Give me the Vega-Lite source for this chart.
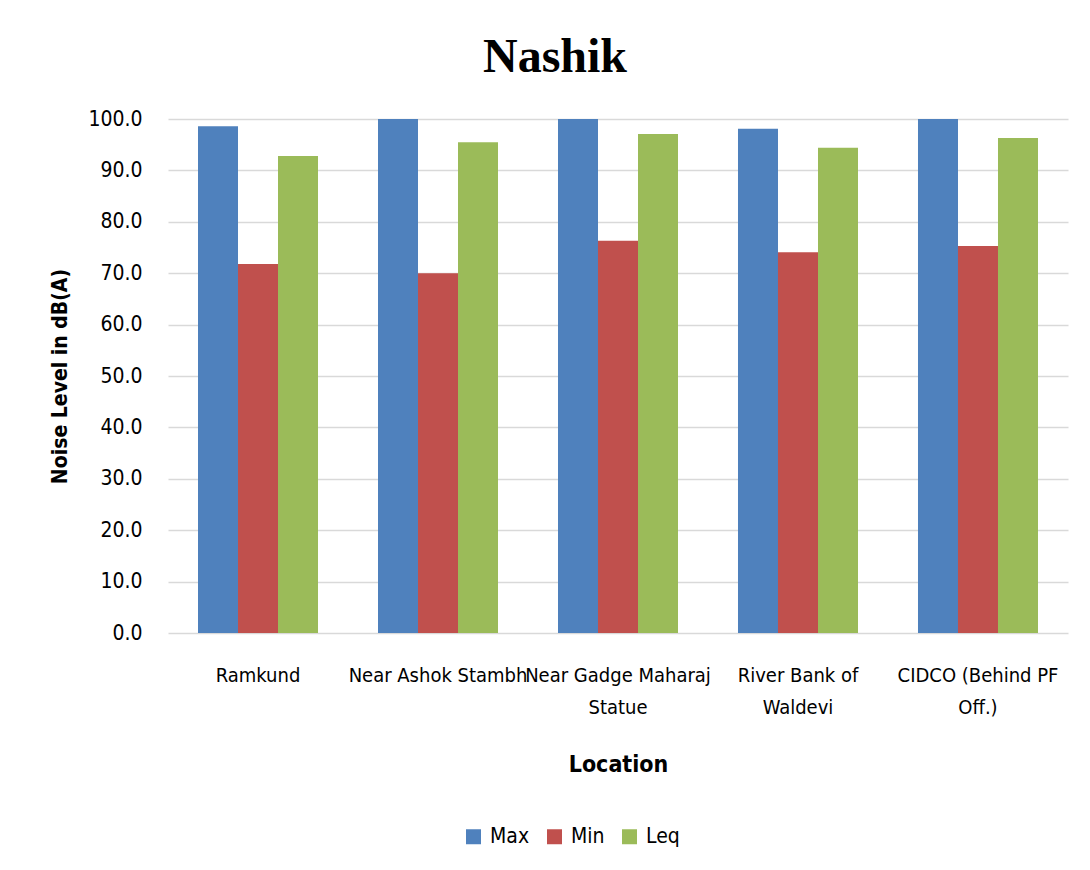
{
  "$schema": "https://vega.github.io/schema/vega-lite/v6.json",
  "width": 900,
  "height": 514,
  "autosize": {"type": "none"},
  "padding": {"left": 168, "top": 119, "right": 22, "bottom": 237},
  "background": "white",
  "title": {
    "text": "Nashik",
    "font": "Liberation Serif",
    "fontSize": 48,
    "fontWeight": "bold",
    "color": "#000000",
    "anchor": "middle",
    "dx": -63,
    "offset": 26
  },
  "data": {
    "values": [
      {"location": "Ramkund", "series": "Max", "value": 98.6},
      {"location": "Ramkund", "series": "Min", "value": 71.8},
      {"location": "Ramkund", "series": "Leq", "value": 92.8},
      {"location": "Near Ashok Stambh", "series": "Max", "value": 100.0},
      {"location": "Near Ashok Stambh", "series": "Min", "value": 70.0},
      {"location": "Near Ashok Stambh", "series": "Leq", "value": 95.5},
      {"location": "Near Gadge Maharaj Statue", "series": "Max", "value": 100.0},
      {"location": "Near Gadge Maharaj Statue", "series": "Min", "value": 76.3},
      {"location": "Near Gadge Maharaj Statue", "series": "Leq", "value": 97.1},
      {"location": "River Bank of Waldevi", "series": "Max", "value": 98.1},
      {"location": "River Bank of Waldevi", "series": "Min", "value": 74.1},
      {"location": "River Bank of Waldevi", "series": "Leq", "value": 94.4},
      {"location": "CIDCO (Behind PF Off.)", "series": "Max", "value": 100.0},
      {"location": "CIDCO (Behind PF Off.)", "series": "Min", "value": 75.3},
      {"location": "CIDCO (Behind PF Off.)", "series": "Leq", "value": 96.3}
    ]
  },
  "mark": {"type": "bar", "clip": true},
  "encoding": {
    "x": {
      "field": "location",
      "type": "nominal",
      "sort": null,
      "scale": {"paddingInner": 0.3333, "paddingOuter": 0.1667},
      "axis": {
        "title": "Location",
        "labelAngle": 0,
        "domain": false,
        "ticks": false,
        "labelFontSize": 20,
        "labelPadding": 32,
        "labelLineHeight": 32,
        "labelLimit": 300,
        "labelExpr": "datum.label == 'Near Gadge Maharaj Statue' ? ['Near Gadge Maharaj', 'Statue'] : datum.label == 'River Bank of Waldevi' ? ['River Bank of', 'Waldevi'] : datum.label == 'CIDCO (Behind PF Off.)' ? ['CIDCO (Behind PF', 'Off.)'] : datum.label",
        "titlePadding": 36
      }
    },
    "xOffset": {
      "field": "series",
      "type": "nominal",
      "sort": ["Max", "Min", "Leq"],
      "scale": {"paddingInner": 0, "paddingOuter": 0}
    },
    "y": {
      "field": "value",
      "type": "quantitative",
      "scale": {"domain": [0, 100], "nice": false},
      "axis": {
        "title": "Noise Level in dB(A)",
        "values": [0, 10, 20, 30, 40, 50, 60, 70, 80, 90, 100],
        "format": ".1f",
        "domain": false,
        "ticks": false,
        "labelFontSize": 21,
        "labelPadding": 26,
        "titleFontSize": 21,
        "titlePadding": 17
      }
    },
    "color": {
      "field": "series",
      "type": "nominal",
      "sort": ["Max", "Min", "Leq"],
      "scale": {"domain": ["Max", "Min", "Leq"], "range": ["#4F81BD", "#C0504D", "#9BBB59"]},
      "legend": {
        "title": null,
        "orient": "none",
        "direction": "horizontal",
        "legendX": 295,
        "legendY": 707,
        "symbolType": "square",
        "symbolSize": 225,
        "symbolStrokeWidth": 0,
        "labelFontSize": 21,
        "columnPadding": 14,
        "labelOffset": 6
      }
    }
  },
  "config": {
    "font": "'Liberation Sans Narrow', 'DejaVu Sans Condensed', sans-serif",
    "view": {"stroke": null},
    "axis": {
      "labelFont": "'Liberation Sans Narrow', 'DejaVu Sans Condensed', sans-serif",
      "titleFont": "'Liberation Sans Narrow', 'DejaVu Sans Condensed', sans-serif",
      "titleFontSize": 23,
      "titleFontWeight": "bold",
      "labelColor": "#000000",
      "titleColor": "#000000",
      "gridColor": "#d9d9d9",
      "gridWidth": 1.5
    },
    "legend": {
      "labelFont": "'Liberation Sans Narrow', 'DejaVu Sans Condensed', sans-serif",
      "labelColor": "#000000"
    }
  }
}
